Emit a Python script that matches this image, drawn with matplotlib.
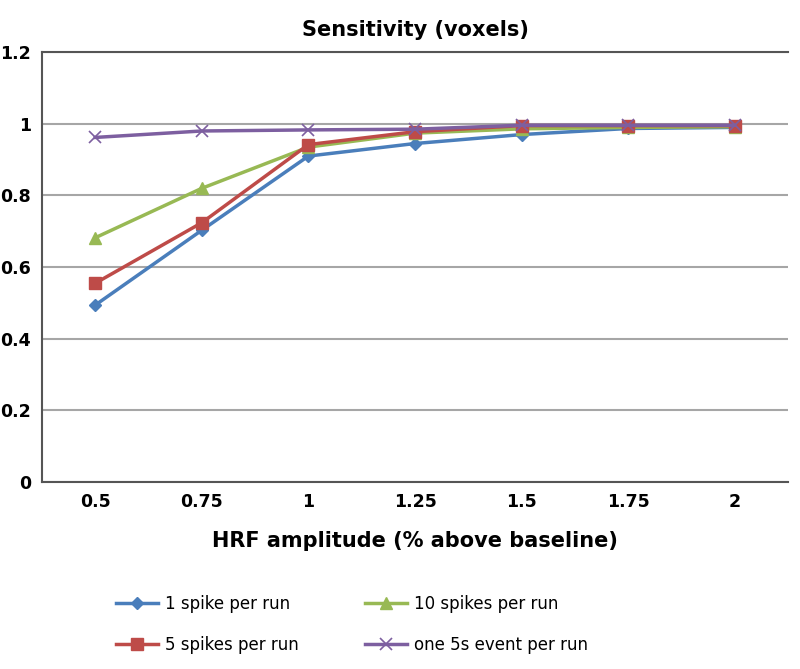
import numpy as np
import matplotlib.pyplot as plt

amplitudes = ["0.5", "0.75", "1", "1.25", "1.5", "1.75", "2"]
one_spike = [0.494, 0.703, 0.91, 0.945, 0.97, 0.987, 0.99]
five_spikes = [0.555, 0.724, 0.942, 0.978, 0.995, 0.995, 0.995]
ten_spikes = [0.682, 0.820, 0.935, 0.974, 0.986, 0.990, 0.992]
one_event = [0.962, 0.980, 0.983, 0.985, 0.996, 0.996, 0.996]

fig = plt.figure(figsize=(8, 6.69), dpi=100)
ax = fig.add_axes([0.0525, 0.2795, 0.9325, 0.6425])

x = np.arange(len(amplitudes))
ax.plot(x, one_spike, color="#4a7ebb", lw=2.5, marker="D", ms=6, label="1 spike per run")
ax.plot(x, ten_spikes, color="#98b954", lw=2.5, marker="^", ms=9, label="10 spikes per run")
ax.plot(x, five_spikes, color="#be4b48", lw=2.5, marker="s", ms=9, label="5 spikes per run")
ax.plot(x, one_event, color="#7d5fa0", lw=2.5, marker="x", ms=9, mew=1.2, label="one 5s event per run")

ax.set_xlim(-0.5, len(amplitudes) - 0.5)
ax.set_ylim(0, 1.2)
ax.set_xticks(x)
ax.set_xticklabels(amplitudes)
ax.set_yticks(np.arange(0, 1.21, 0.2))
ax.set_yticklabels(["0", "0.2", "0.4", "0.6", "0.8", "1", "1.2"])
ax.tick_params(length=0, labelsize=12.5, pad=8)
for lab in ax.get_xticklabels() + ax.get_yticklabels():
    lab.set_fontweight("bold")
ax.grid(axis="y", color="#a6a6a6", lw=1.5)
ax.set_axisbelow(True)
ax.spines["right"].set_visible(False)
for s in ["left", "bottom", "top"]:
    ax.spines[s].set_color("#555555")
    ax.spines[s].set_linewidth(1.5)

ax.set_title("Sensitivity (voxels)", fontsize=15, fontweight="bold", pad=12)
ax.set_xlabel("HRF amplitude (% above baseline)", fontsize=15, fontweight="bold", labelpad=14)

handles, labels = ax.get_legend_handles_labels()
order = [0, 2, 1, 3]
fig.legend([handles[i] for i in order], [labels[i] for i in order],
           loc="center", bbox_to_anchor=(0.44, 0.067), ncol=2, frameon=False,
           fontsize=12, columnspacing=4, handlelength=2.5, handletextpad=0.4,
           labelspacing=1.4)

fig.savefig("out.png")
